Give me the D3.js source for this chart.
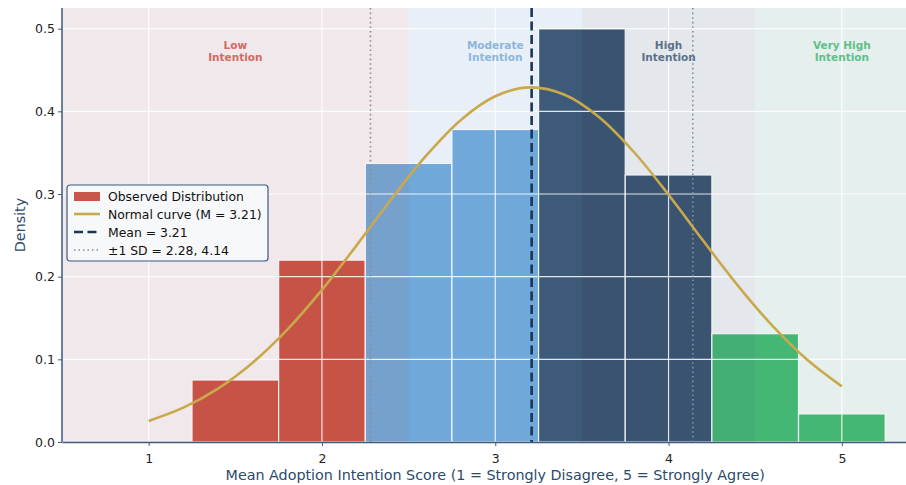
<!DOCTYPE html>
<html><head><meta charset="utf-8">
<script src="https://cdn.jsdelivr.net/npm/d3@7"></script>
<style>body{margin:0;background:#fff}svg{display:block;font-family:"DejaVu Sans",sans-serif}</style>
</head><body><svg id="c" width="906" height="485"></svg>
<script>
const binStarts = [1.25, 1.75, 2.25, 2.75, 3.25, 3.75, 4.25, 4.75];
const binWidth = 0.5;
const densities = [0.075, 0.220, 0.337, 0.378, 0.500, 0.323, 0.131, 0.034];
const curveX = [1.0,1.2,1.4,1.6,1.8,2.0,2.2,2.4,2.6,2.8,3.0,3.2,3.4,3.6,3.8,4.0,4.2,4.4,4.6,4.8,5.0];
const curveY = [0.0255,0.0415,0.0646,0.0959,0.1359,0.1840,0.2379,0.2936,0.3460,0.3893,0.4182,0.4290,0.4201,0.3929,0.3508,0.2991,0.2434,0.1892,0.1404,0.0995,0.0673];
const meanVal = 3.21;
const sdLines = [2.28, 4.14];
const bandNames = ["Low\nIntention", "Moderate\nIntention", "High\nIntention", "Very High\nIntention"];
const bandEdges = [0.5, 2.5, 3.5, 4.5, 5.5];
const bandColors = ["#c0392b", "#5b9bd5", "#1b3a5c", "#27ae60"];
const bandLabelColors = ["#d46a62", "#8cb6df", "#5d7089", "#5fbf89"];
const xTicks = [1, 2, 3, 4, 5];
const yTicks = [0.0, 0.1, 0.2, 0.3, 0.4, 0.5];
const legendLabels = ["Observed Distribution", "Normal curve (M = 3.21)", "Mean = 3.21", "±1 SD = 2.28, 4.14"];

const svg = d3.select("#c");
const L = 62, T = 8, B = 442, R = 928.5;
const x = d3.scaleLinear().domain([0.5, 5.5]).range([L, R]);
const y = d3.scaleLinear().domain([0, 0.525]).range([B, T]);
const g = svg.append("g");

// base plot background
g.append("rect").attr("x", L).attr("y", T).attr("width", R - L).attr("height", B - T).attr("fill", "#f4f6f9");
function bandIndex(v) { for (let i = 0; i < 4; i++) if (v < bandEdges[i+1]) return i; return 3; }

// bars
g.selectAll("rect.bar").data(binStarts).join("rect").attr("class", "bar")
  .attr("x", d => x(d)).attr("width", d => x(d + binWidth) - x(d))
  .attr("y", (d, i) => y(densities[i])).attr("height", (d, i) => B - y(densities[i]))
  .attr("fill", d => bandColors[bandIndex(d + binWidth / 2)]).attr("fill-opacity", 0.85)
  .attr("stroke", "#fff").attr("stroke-width", 1.2);

// band tints over bars
bandColors.forEach((c, i) => {
  g.append("rect").attr("x", x(bandEdges[i])).attr("y", T)
    .attr("width", x(bandEdges[i+1]) - x(bandEdges[i])).attr("height", B - T)
    .attr("fill", c).attr("fill-opacity", 0.07);
});

// grid
xTicks.forEach(t => g.append("line").attr("x1", x(t)).attr("x2", x(t)).attr("y1", T).attr("y2", B)
  .attr("stroke", "#fff").attr("stroke-width", 1.2).attr("stroke-opacity", 0.85));
yTicks.slice(1).forEach(t => g.append("line").attr("x1", L).attr("x2", R).attr("y1", y(t)).attr("y2", y(t))
  .attr("stroke", "#fff").attr("stroke-width", 1.2).attr("stroke-opacity", 0.85));

// band labels
bandNames.forEach((n, i) => {
  const cx = x((bandEdges[i] + bandEdges[i+1]) / 2);
  const t = g.append("text").attr("x", cx).attr("y", 49).attr("text-anchor", "middle")
    .attr("fill", bandLabelColors[i]).attr("font-size", 10.5).attr("font-weight", "bold");
  n.split("\n").forEach((s, j) => t.append("tspan").attr("x", cx).attr("dy", j ? 12 : 0).text(s));
});

// sd lines
sdLines.forEach(v => g.append("line").attr("x1", x(v)).attr("x2", x(v)).attr("y1", T).attr("y2", B)
  .attr("stroke", "#8a8f96").attr("stroke-width", 1.6).attr("stroke-dasharray", "1.6,3"));

// normal curve
const line = d3.line().x((d, i) => x(curveX[i])).y(d => y(d)).curve(d3.curveCatmullRom);
g.append("path").datum(curveY).attr("d", line).attr("fill", "none")
  .attr("stroke", "#c9a94c").attr("stroke-width", 2.6);

// mean line
g.append("line").attr("x1", x(meanVal)).attr("x2", x(meanVal)).attr("y1", T).attr("y2", B)
  .attr("stroke", "#1a3557").attr("stroke-width", 2.6).attr("stroke-dasharray", "9,4.5");

// axes
const spine = "#3d5a80";
const xAxis = svg.append("g").attr("transform", `translate(0,${B})`)
  .call(d3.axisBottom(x).tickValues(xTicks).tickFormat(d3.format("d")).tickSize(4).tickSizeOuter(0));
const yAxis = svg.append("g").attr("transform", `translate(${L},0)`)
  .call(d3.axisLeft(y).tickValues(yTicks).tickFormat(d3.format(".1f")).tickSize(4).tickSizeOuter(0));
[xAxis, yAxis].forEach(a => {
  a.select(".domain").attr("stroke", spine).attr("stroke-width", 1.5);
  a.selectAll(".tick line").attr("stroke", spine);
  a.selectAll(".tick text").attr("fill", "#222").attr("font-size", 12.5).attr("font-family", "DejaVu Sans");
});
xAxis.selectAll(".tick text").attr("dy", "1.1em");
yAxis.select(".domain").attr("d", `M0,${B}V${T}`);

svg.append("text").attr("x", (L + R) / 2).attr("y", 480).attr("text-anchor", "middle")
  .attr("fill", "#2c4a6b").attr("font-size", 14.3).text("Mean Adoption Intention Score (1 = Strongly Disagree, 5 = Strongly Agree)");
svg.append("text").attr("transform", `translate(25,${(T + B) / 2}) rotate(-90)`).attr("text-anchor", "middle")
  .attr("fill", "#2c4a6b").attr("font-size", 14.3).text("Density");

// legend
const lg = svg.append("g").attr("transform", "translate(67,185)");
lg.append("rect").attr("width", 201).attr("height", 76).attr("rx", 3)
  .attr("fill", "#f7f8fa").attr("fill-opacity", 0.92).attr("stroke", spine).attr("stroke-width", 1.2);
legendLabels.forEach((s, i) => {
  const yy = 11 + i * 18;
  if (i === 0) lg.append("rect").attr("x", 7).attr("y", yy - 4).attr("width", 26).attr("height", 9)
    .attr("fill", bandColors[0]).attr("fill-opacity", 0.85);
  if (i === 1) lg.append("line").attr("x1", 7).attr("x2", 33).attr("y1", yy).attr("y2", yy)
    .attr("stroke", "#c9a94c").attr("stroke-width", 2.6);
  if (i === 2) lg.append("line").attr("x1", 7).attr("x2", 33).attr("y1", yy).attr("y2", yy)
    .attr("stroke", "#1a3557").attr("stroke-width", 2.6).attr("stroke-dasharray", "9,4.5");
  if (i === 3) lg.append("line").attr("x1", 7).attr("x2", 33).attr("y1", yy).attr("y2", yy)
    .attr("stroke", "#8a8f96").attr("stroke-width", 1.5).attr("stroke-dasharray", "1.5,3");
  lg.append("text").attr("x", 41).attr("y", yy + 4.5).attr("font-size", 12.4).attr("fill", "#111").text(s);
});
</script></body></html>
